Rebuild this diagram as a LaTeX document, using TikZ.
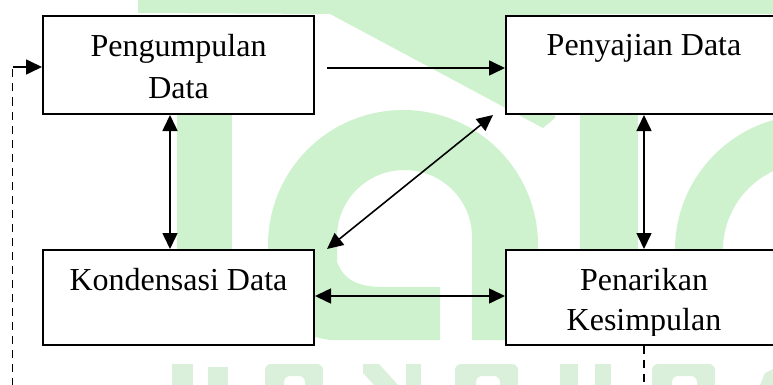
\documentclass[tikz,border=0pt]{standalone}
\usepackage{fontspec}
\setmainfont{Liberation Serif}
\usetikzlibrary{arrows.meta}
\definecolor{wm}{RGB}{206,242,206}
\definecolor{wmb}{RGB}{218,240,218}
\begin{document}
\begin{tikzpicture}[x=1pt,y=-1pt,
  box/.style={draw, fill=white, line width=2pt, rectangle, inner sep=0pt, anchor=north west},
  txt/.style={font=\fontsize{32}{40}\selectfont, inner sep=0pt, anchor=base},
  arr/.style={line width=1.6pt, -{Triangle[length=16pt,width=15pt]}},
  darr/.style={line width=1.6pt, {Triangle[length=16pt,width=15pt]}-{Triangle[length=16pt,width=15pt]}},
  dashline/.style={line width=1.6pt, dash pattern=on 8pt off 6pt}]
\useasboundingbox (0,0) rectangle (773,385);
\clip (0,0) rectangle (773,385);
% ---- watermark ----
\fill[wm] (138,0) -- (773,0) -- (773,14) -- (560,14) -- (555,118) -- (543,128) -- (330,14) -- (138,13) -- cycle;
\fill[wm] (177,100) rectangle (232,260);
\fill[wm] (580,100) rectangle (638,260);
\fill[wm] (268,250) -- (268,245) arc[start angle=180,end angle=0,radius=135pt] -- (538,340) -- (472,340) -- (472,237) arc[start angle=0,end angle=180,x radius=67.5pt,y radius=67pt] -- (337,250) -- cycle;
\fill[wm] (268,245) -- (337,245) -- (337,262) .. controls (345,282) and (360,287) .. (385,287) -- (440,287) -- (440,340) -- (330,340) .. controls (295,335) and (268,315) .. (268,290) -- cycle;
\fill[wm] (675,260) -- (675,250) arc[start angle=180,end angle=90,radius=135pt] -- (810,163) arc[start angle=90,end angle=180,radius=87pt] -- (723,260) -- cycle;
% bottom letters
\fill[wmb] (172,364) rectangle (193,390);
\fill[wmb] (208,367) rectangle (228,390);
\fill[wmb,rounded corners=6pt] (265,390) |- (323,364) -- (323,390) -- (305,390) |- (284,376) -- (284,390) -- cycle;
\fill[wmb] (363,364) -- (379,364) -- (398,385) -- (374,385) -- (363,373) -- cycle;
\fill[wmb] (406,364) rectangle (421,390);
\fill[wmb,rounded corners=6pt] (455,390) |- (518,364) -- (518,390) -- (500,390) |- (476,376) -- (476,390) -- cycle;
\fill[wmb] (560,364) rectangle (578,390);
\fill[wmb] (595,364) rectangle (611,390);
\fill[wmb,rounded corners=6pt] (652,390) |- (715,364) -- (715,390) -- (697,390) |- (672,376) -- (672,390) -- cycle;
\fill[wmb] (758,390) -- (765,373) -- (773,369) -- (773,390) -- cycle;
% ---- boxes ----
\node[box, minimum width=271pt, minimum height=98pt] (b1) at (42,15) {};
\node[box, minimum width=276pt, minimum height=98pt] (b2) at (505,15) {};
\node[box, minimum width=271pt, minimum height=95pt] (b3) at (42,249) {};
\node[box, minimum width=276pt, minimum height=95pt] (b4) at (505,249) {};
% ---- texts ----
\node[txt] (t1a) at ([yshift=-41.5pt]b1.north) {Pengumpulan};
\node[txt] (t1b) at ([yshift=-84pt]b1.north) {Data};
\node[txt] (t2) at ([yshift=-41pt]b2.north) {Penyajian Data};
\node[txt] (t3) at ([yshift=-41pt]b3.north) {Kondensasi Data};
\node[txt] (t4a) at ([yshift=-41pt]b4.north) {Penarikan};
\begin{scope}
\clip (b4.north west) rectangle ([yshift=11pt]b4.south east);
\node[txt] (t4b) at ([yshift=-81pt]b4.north) {Kesimpulan};
\end{scope}
% ---- connectors ----
\draw[arr] ([xshift=12pt,yshift=-3pt]b1.east) -- ([yshift=-3pt]b2.west);
\draw[darr] ([xshift=-8.5pt]b1.south) -- ([xshift=-8.5pt]b3.north);
\draw[darr] ([xshift=-12pt]b2.south west) -- ([xshift=12pt]b3.north east);
\draw[darr] (b2.south) -- (b4.north);
\draw[darr] ([yshift=1.5pt]b3.east) -- ([yshift=1.5pt]b4.west);
\coordinate (lc) at (12.5,67);
\coordinate (bl) at (12.5,400);
\draw[dashline] (b4.south) -- (b4.south |- bl) -- (bl) -- (lc);
\draw[arr] (lc) -- (lc -| b1.west);
\end{tikzpicture}
\end{document}
